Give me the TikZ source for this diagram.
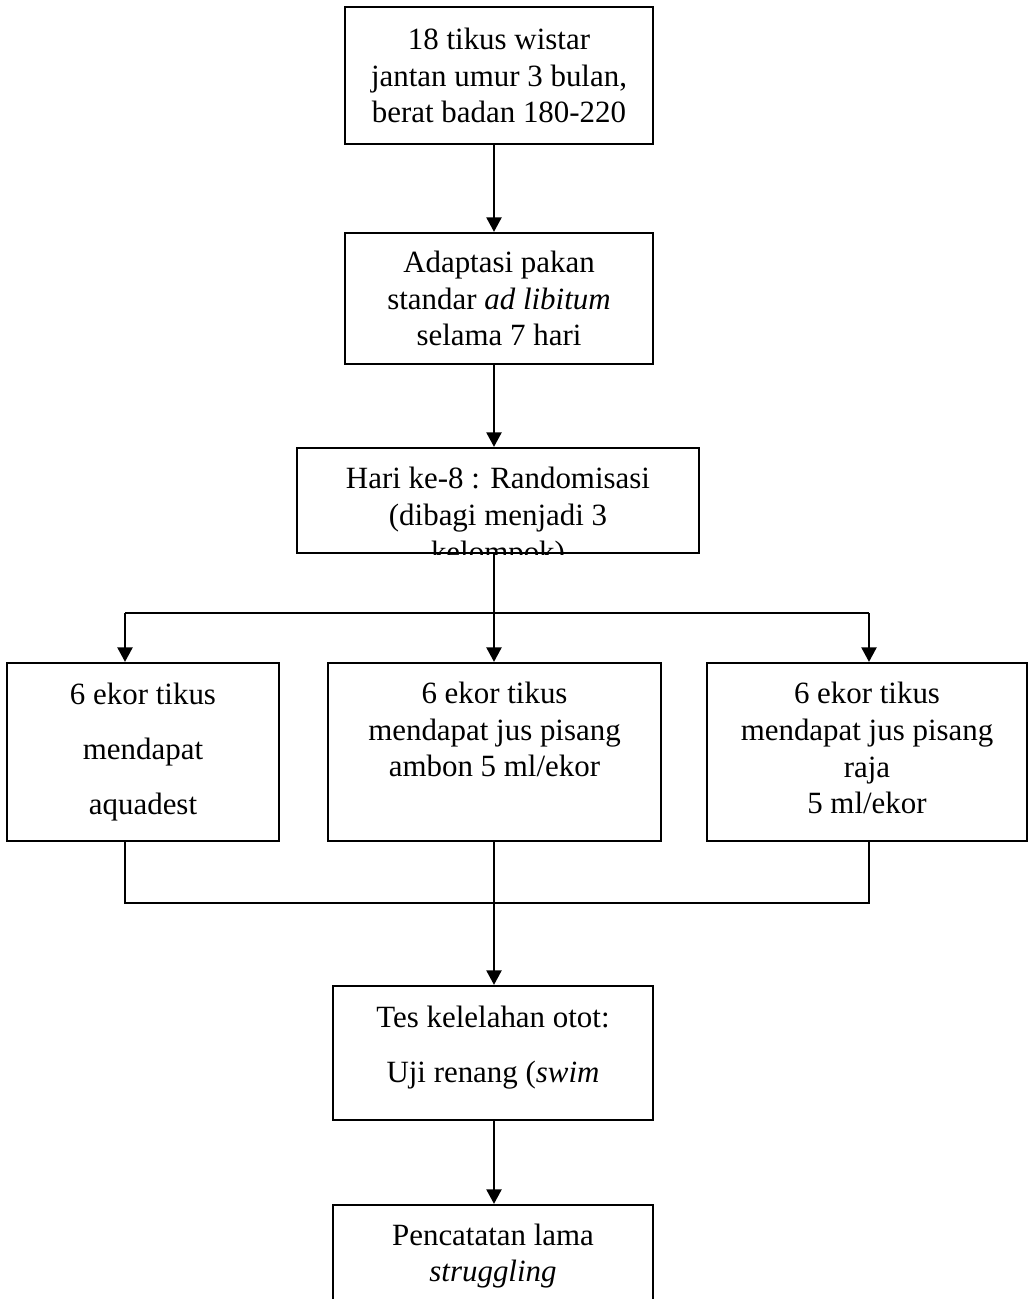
\documentclass[tikz,border=0pt]{standalone}
\usepackage{fontspec}
\setmainfont{Liberation Serif}
\usetikzlibrary{arrows.meta,positioning}

\tikzset{
  box/.style={draw, line width=1.3pt, inner sep=0pt, align=center},
  link/.style={line width=1.3pt},
  arr/.style={line width=1.3pt, -{Triangle[length=0.29cm,width=0.3cm]}},
}

\begin{document}
\begin{tikzpicture}[x=0.02cm, y=-0.02cm, font=\fontsize{17.6}{21}\selectfont]

      \useasboundingbox (0,0) rectangle (1030,1299);

      % main column
      \node[box, minimum width=6.16cm, minimum height=2.74cm] (tikus) at (499,75.5) {18 tikus wistar\\ jantan umur 3 bulan,\\ berat badan 180-220};
      \node[box, minimum width=6.16cm, minimum height=2.62cm] (adapt) at (499,298.5) {Adaptasi pakan\\ standar \textit{ad libitum}\\ selama 7 hari};
      \node[box, minimum width=8.04cm, minimum height=2.1cm] (acak) at (498,500.5) {};
      \begin{scope}
        \clip (acak.south west) rectangle (acak.north east);
        \node[align=center] (acakteks) at (498,518) {Hari ke-8 : Randomisasi\\ (dibagi menjadi 3\\ kelompok)};
      \end{scope}

      % three groups
      \node[box, minimum width=5.44cm, minimum height=3.56cm] (kontrol) at (143,752) {6 ekor tikus\\[10.2pt] mendapat\\[10.2pt] aquadest};
      \node[box, minimum width=6.66cm, minimum height=3.56cm] (ambon) at (494.5,752) {};
      \node[align=center] (ambonteks) at (494.5,729.5) {6 ekor tikus\\ mendapat jus pisang\\ ambon 5 ml/ekor};
      \node[box, minimum width=6.4cm, minimum height=3.56cm] (raja) at (867,752) {};
      \node[align=center] (rajateks) at (867,748) {6 ekor tikus\\ mendapat jus pisang\\ raja\\ 5 ml/ekor};

      \node[box, minimum width=6.4cm, minimum height=2.68cm] (renang) at (493,1053) {};
      \node[align=center] (renangteks) at (493,1048) {Tes kelelahan otot:\\[10.2pt] Uji renang (\textit{swim}};
      \node[box, minimum width=6.4cm, minimum height=2.04cm] (catat) at (493,1256) {Pencatatan lama\\ \textit{struggling}};

      % connectors
      \coordinate (kiri) at (125,613);
      \coordinate (bagi) at (494,613);
      \coordinate (kanan) at (869,613);
      \coordinate (gabung) at (494,903);

      \draw[arr] (tikus.south -| bagi) -- (bagi |- adapt.north);
      \draw[arr] (adapt.south -| bagi) -- (bagi |- acak.north);
      \draw[link] (bagi |- acak.south) -- (bagi);
      \draw[link] (kiri) -- (kanan);
      \draw[arr] (kiri) -- (kiri |- kontrol.north);
      \draw[arr] (bagi) -- (bagi |- ambon.north);
      \draw[arr] (kanan) -- (kanan |- raja.north);

      \draw[link] (kiri |- kontrol.south) -- (kiri |- gabung) -- (kanan |- gabung) -- (kanan |- raja.south);
      \draw[link] (bagi |- ambon.south) -- (gabung);
      \draw[arr] (gabung) -- (gabung |- renang.north);
      \draw[arr] (gabung |- renang.south) -- (gabung |- catat.north);

\end{tikzpicture}
\end{document}
